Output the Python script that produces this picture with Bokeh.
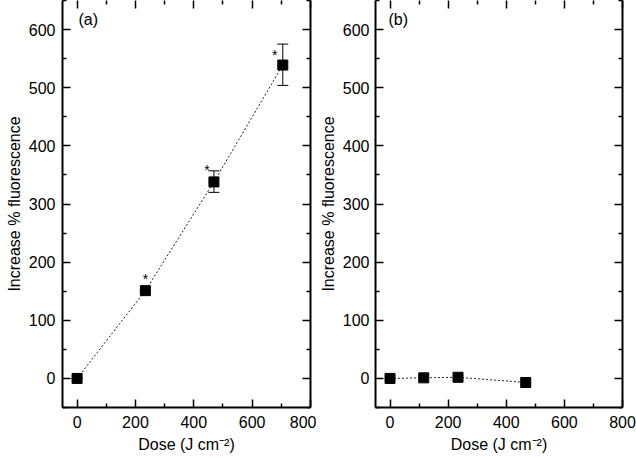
from bokeh.plotting import figure
from bokeh.layouts import row
from bokeh.models import (ColumnDataSource, LinearAxis, FixedTicker, Range1d,
                          Whisker, TeeHead, Label, CustomJSTickFormatter)
from bokeh.core.properties import value
from bokeh.embed import file_html
from bokeh.resources import INLINE

# ---- data ----
dose_a = [0, 234, 469, 705]
incr_a = [0, 151, 338, 539]
err_lo_a = [0, 151, 320, 504]
err_hi_a = [0, 151, 357, 575]
signif_a = ["", "*", "*", "*"]

dose_b = [0, 116, 234, 467]
incr_b = [0, 1, 2, -7]

x_ticks = [0, 200, 400, 600, 800]
x_minor = [100, 300, 500, 700]
y_ticks = [0, 100, 200, 300, 400, 500, 600]
y_minor = [-50, 50, 150, 250, 350, 450, 550, 650]

X_LABEL = "Dose (J cm\u207b\u00b2)"
Y_LABEL = "Increase % fluorescence"

FONT = "Liberation Sans"
FS = "16px"


def style_axes(p, tick_so, label_so):
    ticker_x = FixedTicker(ticks=x_ticks, minor_ticks=x_minor)
    ticker_y = FixedTicker(ticks=y_ticks, minor_ticks=y_minor)
    xa = p.xaxis[0]
    ya = p.yaxis[0]
    xa.ticker = ticker_x
    ya.ticker = ticker_y
    blank = CustomJSTickFormatter(code="return '';")
    top = LinearAxis(ticker=ticker_x, formatter=blank,
                     major_label_standoff=0, axis_line_color=None)
    right = LinearAxis(ticker=ticker_y, formatter=blank,
                       major_label_standoff=0)
    p.add_layout(top, "above")
    p.add_layout(right, "right")
    for ax in [xa, ya, top, right]:
        ax.major_tick_in = 8
        ax.major_tick_out = 0
        ax.minor_tick_in = 4
        ax.minor_tick_out = 0
        ax.major_tick_line_width = 1.5
        ax.minor_tick_line_width = 1.5
        ax.major_tick_line_color = "black"
        ax.minor_tick_line_color = "black"
        if ax is not top:
            ax.axis_line_width = 2
            ax.axis_line_color = "black"
    for ax in [xa, ya]:
        ax.major_label_text_font = FONT
        ax.major_label_text_font_size = FS
        ax.major_label_text_color = "black"
        ax.axis_label_text_font = FONT
        ax.axis_label_text_font_size = FS
        ax.axis_label_text_font_style = "normal"
        ax.axis_label_text_color = "black"
    xa.major_label_standoff = 8
    xa.axis_label_standoff = 5
    xa.axis_label = X_LABEL
    ya.major_label_standoff = tick_so
    ya.axis_label_standoff = label_so
    ya.axis_label = Y_LABEL
    p.grid.visible = False
    p.outline_line_color = None


def make_fig(left, right_border, width, tick_so, label_so):
    p = figure(width=width, height=458, output_backend="svg", toolbar_location=None,
               x_range=Range1d(-50, 800), y_range=Range1d(-50, 650),
               min_border_left=left, min_border_right=right_border,
               min_border_top=0, min_border_bottom=51)
    style_axes(p, tick_so, label_so)
    return p


# ---- panel (a) ----
pa = make_fig(62, 6, 316, 7, 3)
src_a = ColumnDataSource(dict(x=dose_a, y=incr_a, lo=err_lo_a, hi=err_hi_a,
                              s=signif_a, xo=[0, 0, -7, -8], yo=[-12, -12, -12, -10]))
pa.line("x", "y", source=src_a, line_dash="2 2", line_width=1, line_color="#222222")
pa.add_layout(Whisker(base="x", lower="lo", upper="hi", source=src_a,
                      line_width=1, line_color="black",
                      upper_head=TeeHead(size=11, line_width=1, line_color="black"),
                      lower_head=TeeHead(size=11, line_width=1, line_color="black")))
pa.scatter("x", "y", source=src_a, marker="square", size=10, color="black")
pa.text("x", "y", text="s", source=src_a, x_offset="xo", y_offset="yo",
        text_font=value(FONT), text_font_size="14px", text_align="center",
        text_baseline="middle", text_color="black")
pa.add_layout(Label(x=16, y=380, x_units="screen", y_units="screen", text="(a)",
                    text_font=FONT, text_font_size=FS, text_color="black"))

# ---- panel (b) ----
pb = make_fig(59, 14, 320, 6, 3)
src_b = ColumnDataSource(dict(x=dose_b, y=incr_b))
pb.line("x", "y", source=src_b, line_dash="2 2", line_width=1, line_color="#222222")
pb.scatter("x", "y", source=src_b, marker="square", size=10, color="black")
pb.add_layout(Label(x=13, y=380, x_units="screen", y_units="screen", text="(b)",
                    text_font=FONT, text_font_size=FS, text_color="black"))

layout = row(pa, pb)
open("out.html", "w").write(file_html(layout, INLINE))
